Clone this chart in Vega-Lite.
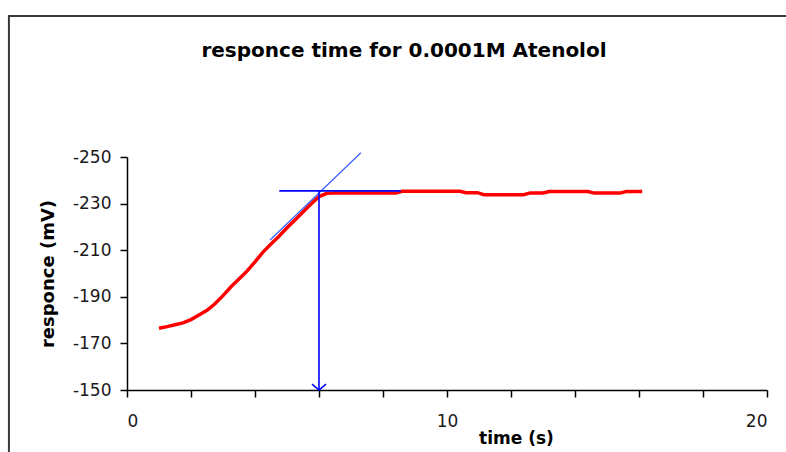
{
  "$schema": "https://vega.github.io/schema/vega-lite/v6.json",
  "width": 640,
  "height": 233,
  "autosize": {"type": "none"},
  "padding": {"left": 127, "top": 157, "right": 19, "bottom": 62},
  "background": "white",
  "title": {
    "text": "responce time for 0.0001M Atenolol",
    "font": "DejaVu Sans",
    "fontSize": 20,
    "fontWeight": "bold",
    "color": "black",
    "anchor": "middle",
    "frame": "group",
    "baseline": "alphabetic",
    "dx": -43,
    "offset": -62
  },
  "config": {
    "view": {"stroke": null},
    "axis": {
      "grid": false,
      "domainColor": "black",
      "domainWidth": 1.5,
      "tickColor": "black",
      "tickWidth": 1.5,
      "tickSize": 7,
      "labelFont": "DejaVu Sans",
      "labelFontSize": 17,
      "labelColor": "#1a1a1a",
      "titleFont": "DejaVu Sans",
      "titleFontWeight": "bold",
      "titleColor": "black"
    }
  },
  "datasets": {
    "response": [
      {"t": 1.0, "mv": -176.5},
      {"t": 1.25, "mv": -177.2},
      {"t": 1.5, "mv": -178.0},
      {"t": 1.75, "mv": -178.8},
      {"t": 2.0, "mv": -180.2},
      {"t": 2.25, "mv": -182.2},
      {"t": 2.5, "mv": -184.2},
      {"t": 2.75, "mv": -187.0},
      {"t": 3.0, "mv": -190.5},
      {"t": 3.25, "mv": -194.3},
      {"t": 3.5, "mv": -197.6},
      {"t": 3.75, "mv": -201.0},
      {"t": 4.0, "mv": -205.0},
      {"t": 4.25, "mv": -209.2},
      {"t": 4.5, "mv": -212.7},
      {"t": 4.75, "mv": -216.0},
      {"t": 5.0, "mv": -219.6},
      {"t": 5.25, "mv": -223.0},
      {"t": 5.5, "mv": -226.4},
      {"t": 5.75, "mv": -229.8},
      {"t": 6.0, "mv": -233.0},
      {"t": 6.25, "mv": -234.4},
      {"t": 6.5, "mv": -234.6},
      {"t": 8.4, "mv": -234.5},
      {"t": 8.6, "mv": -235.3},
      {"t": 10.4, "mv": -235.3},
      {"t": 10.6, "mv": -234.7},
      {"t": 10.95, "mv": -234.7},
      {"t": 11.15, "mv": -233.8},
      {"t": 12.4, "mv": -233.8},
      {"t": 12.6, "mv": -234.6},
      {"t": 13.0, "mv": -234.6},
      {"t": 13.2, "mv": -235.2},
      {"t": 14.4, "mv": -235.2},
      {"t": 14.6, "mv": -234.5},
      {"t": 15.4, "mv": -234.5},
      {"t": 15.6, "mv": -235.2},
      {"t": 16.1, "mv": -235.2}
    ],
    "tangent": [
      {"t": 4.47, "mv": -214.4},
      {"t": 7.31, "mv": -251.8}
    ],
    "plateau": [
      {"t": 4.76, "mv": -235.5},
      {"t": 8.55, "mv": -235.5}
    ],
    "drop": [
      {"t": 6.0, "mv": -235.5},
      {"t": 6.0, "mv": -150}
    ],
    "arrowTip": [
      {"t": 6.0, "mv": -150}
    ]
  },
  "layer": [
    {
      "data": {"values": [{}]},
      "mark": {"type": "rect", "fill": null, "stroke": "#3a3a3a", "strokeWidth": 2, "clip": false},
      "encoding": {
        "x": {"datum": -3.69, "type": "quantitative", "scale": {"domain": [0, 20], "nice": false, "zero": false}},
        "x2": {"datum": 22},
        "y": {"datum": -310.5, "type": "quantitative"},
        "y2": {"datum": -110}
      }
    },
    {
      "data": {"name": "response"},
      "mark": {"type": "line", "color": "#ff0000", "strokeWidth": 3.5, "clip": false},
      "encoding": {
        "x": {
          "field": "t",
          "type": "quantitative",
          "scale": {"domain": [0, 20], "nice": false, "zero": false},
          "axis": {
            "values": [0, 1, 2, 3, 4, 5, 6, 7, 8, 9, 10, 11, 12, 13, 14, 15, 16, 17, 18, 19, 20],
            "labelExpr": "datum.value % 5 === 0 ? toString(datum.value) : ''",
            "labelPadding": 16,
            "title": "time (s)",
            "titleFontSize": 17,
            "titleX": 389,
            "titleY": 53,
            "titleAlign": "center",
            "titleBaseline": "alphabetic"
          }
        },
        "y": {
          "field": "mv",
          "type": "quantitative",
          "scale": {"domain": [-250, -150], "reverse": true, "nice": false, "zero": false},
          "axis": {
            "values": [-250, -230, -210, -190, -170, -150],
            "labelExpr": "toString(datum.value)",
            "labelPadding": 9,
            "title": "responce (mV)",
            "titleFontSize": 18,
            "titleX": -79,
            "titleY": 116.5,
            "titleAngle": -90,
            "titleAlign": "center",
            "titleBaseline": "middle"
          }
        }
      }
    },
    {
      "data": {"name": "tangent"},
      "mark": {"type": "line", "color": "#3a5cff", "strokeWidth": 1.2, "clip": false},
      "encoding": {
        "x": {"field": "t", "type": "quantitative"},
        "y": {"field": "mv", "type": "quantitative"}
      }
    },
    {
      "data": {"name": "plateau"},
      "mark": {"type": "line", "color": "#0000ff", "strokeWidth": 1.8, "clip": false},
      "encoding": {
        "x": {"field": "t", "type": "quantitative"},
        "y": {"field": "mv", "type": "quantitative"}
      }
    },
    {
      "data": {"name": "drop"},
      "mark": {"type": "line", "color": "#0000ff", "strokeWidth": 1.6, "clip": false},
      "encoding": {
        "x": {"field": "t", "type": "quantitative"},
        "y": {"field": "mv", "type": "quantitative"}
      }
    },
    {
      "data": {"name": "arrowTip"},
      "mark": {
        "type": "point",
        "shape": "M-1,-0.85L0,0L1,-0.85",
        "filled": false,
        "stroke": "#0000ff",
        "strokeWidth": 1.6,
        "size": 196,
        "opacity": 1,
        "clip": false
      },
      "encoding": {
        "x": {"field": "t", "type": "quantitative"},
        "y": {"field": "mv", "type": "quantitative"}
      }
    }
  ]
}
